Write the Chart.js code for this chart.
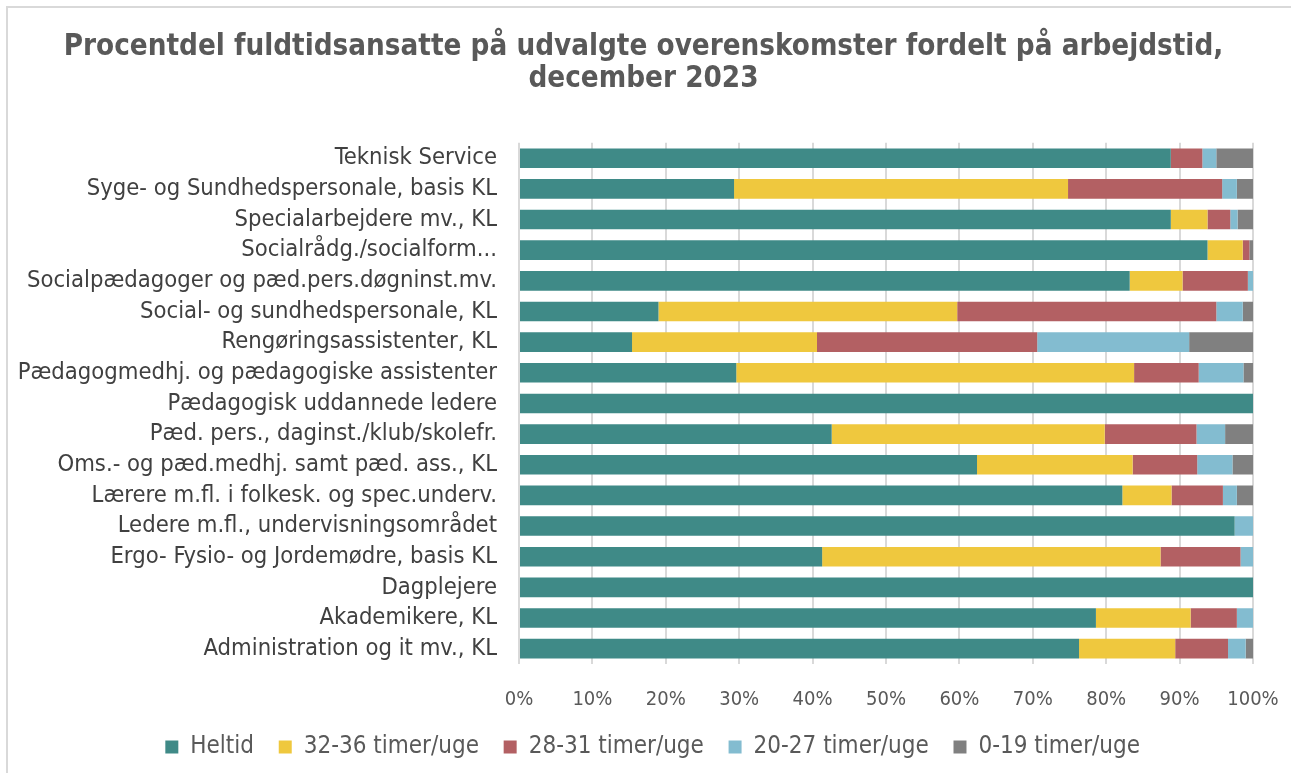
<!DOCTYPE html>
<html>
<head>
<meta charset="utf-8">
<script src="https://cdn.jsdelivr.net/npm/chart.js@4/dist/chart.umd.min.js"></script>
<style>
html,body{margin:0;padding:0;background:#fff;}
#wrap{position:relative;width:1291px;height:773px;overflow:hidden;}
canvas{display:block;}
</style>
</head>
<body>
<div id="wrap"><canvas id="c" width="1291" height="773"></canvas></div>
<script>
const categories = [
  "Teknisk Service",
  "Syge- og Sundhedspersonale, basis KL",
  "Specialarbejdere mv., KL",
  "Socialrådg./socialform...",
  "Socialpædagoger og pæd.pers.døgninst.mv.",
  "Social- og sundhedspersonale, KL",
  "Rengøringsassistenter, KL",
  "Pædagogmedhj. og pædagogiske assistenter",
  "Pædagogisk uddannede ledere",
  "Pæd. pers., daginst./klub/skolefr.",
  "Oms.- og pæd.medhj. samt pæd. ass., KL",
  "Lærere m.fl. i folkesk. og spec.underv.",
  "Ledere m.fl., undervisningsområdet",
  "Ergo- Fysio- og Jordemødre, basis KL",
  "Dagplejere",
  "Akademikere, KL",
  "Administration og it mv., KL"
];
const heltid   = [88.8, 29.3, 88.8, 93.8, 83.2, 19.0, 15.4, 29.6, 100, 42.6, 62.4, 82.2, 97.5, 41.3, 100, 78.6, 76.3];
const t32_36   = [0,    45.5, 5.0,  4.8,  7.2,  40.7, 25.2, 54.2, 0,   37.2, 21.2, 6.7,  0,    46.1, 0,   12.9, 13.1];
const t28_31   = [4.3,  21.0, 3.1,  0.9,  8.9,  35.3, 30.0, 8.8,  0,   12.5, 8.8,  7.0,  0,    10.9, 0,   6.3,  7.2];
const t20_27   = [1.9,  2.0,  1.0,  0,    0.7,  3.6,  20.7, 6.1,  0,   3.9,  4.8,  1.9,  2.5,  1.7,  0,   2.2,  2.4];
const t0_19    = [5.0,  2.2,  2.1,  0.5,  0,    1.4,  8.7,  1.3,  0,   3.8,  2.8,  2.2,  0,    0,    0,   0,    1.0];
const seriesNames = ["Heltid", "32-36 timer/uge", "28-31 timer/uge", "20-27 timer/uge", "0-19 timer/uge"];
const xTicks = [0,10,20,30,40,50,60,70,80,90,100];
const titleLines = ["Procentdel fuldtidsansatte på udvalgte overenskomster fordelt på arbejdstid,", "december 2023"];

const colors = ["#3F8A87", "#EFC83E", "#B36063", "#83BCD0", "#808080"];
const seriesData = [heltid, t32_36, t28_31, t20_27, t0_19];

const FONT = "'DejaVu Sans Condensed', 'DejaVu Sans', sans-serif";

const borderPlugin = {
  id: 'outerBorder',
  beforeDraw(chart) {
    const ctx = chart.ctx;
    ctx.save();
    ctx.fillStyle = '#fff';
    ctx.fillRect(0, 0, chart.width, chart.height);
    ctx.strokeStyle = '#d9d9d9';
    ctx.lineWidth = 2;
    ctx.strokeRect(7, 7, chart.width + 20, chart.height + 20);
    ctx.restore();
  }
};

const legendShift = {
  id: 'legendShift',
  afterLayout(chart) {
    if (chart.legend) {
      chart.legend.left += 16;
      chart.legend.right += 16;
    }
  }
};

new Chart(document.getElementById('c'), {
  type: 'bar',
  data: {
    labels: categories,
    datasets: seriesData.map((d, i) => ({
      label: seriesNames[i],
      data: d,
      backgroundColor: colors[i],
      borderWidth: 0,
      barPercentage: 0.64,
      categoryPercentage: 1.0
    }))
  },
  options: {
    indexAxis: 'y',
    responsive: false,
    animation: false,
    layout: { padding: { left: 10, right: 14, top: 20, bottom: 4 } },
    scales: {
      x: {
        stacked: true,
        min: 0, max: 100,
        afterBuildTicks(scale) { scale.ticks = xTicks.map(v => ({ value: v })); },
        afterFit(scale) { scale.height = 60; scale.paddingLeft = 0; scale.paddingRight = 38; },
        ticks: {
          callback: v => v + '%',
          color: '#595959',
          font: { family: FONT, size: 20 },
          padding: 24
        },
        grid: { color: '#d9d9d9', lineWidth: 2, drawTicks: false },
        border: { display: false }
      },
      y: {
        stacked: true,
        afterFit(scale) { scale.width = 509; },
        ticks: {
          color: '#404040',
          font: { family: FONT, size: 23.6 },
          padding: 22,
          autoSkip: false
        },
        grid: { display: false, drawTicks: false },
        border: { display: false }
      }
    },
    plugins: {
      title: {
        display: true,
        text: titleLines,
        color: '#595959',
        font: { family: FONT, size: 29.3, weight: 'bold', lineHeight: 1.09 },
        padding: { top: 11, bottom: 48 }
      },
      legend: {
        position: 'bottom',
        labels: {
          color: '#595959',
          font: { family: FONT, size: 24 },
          boxWidth: 13,
          boxHeight: 13,
          padding: 11,
          generateLabels(chart) {
            return Chart.defaults.plugins.legend.labels.generateLabels(chart).map(l => {
              l.text = l.text + '\u00A0\u00A0';
              return l;
            });
          }
        }
      },
      tooltip: { enabled: false }
    }
  },
  plugins: [borderPlugin, legendShift]
});
</script>
</body>
</html>
